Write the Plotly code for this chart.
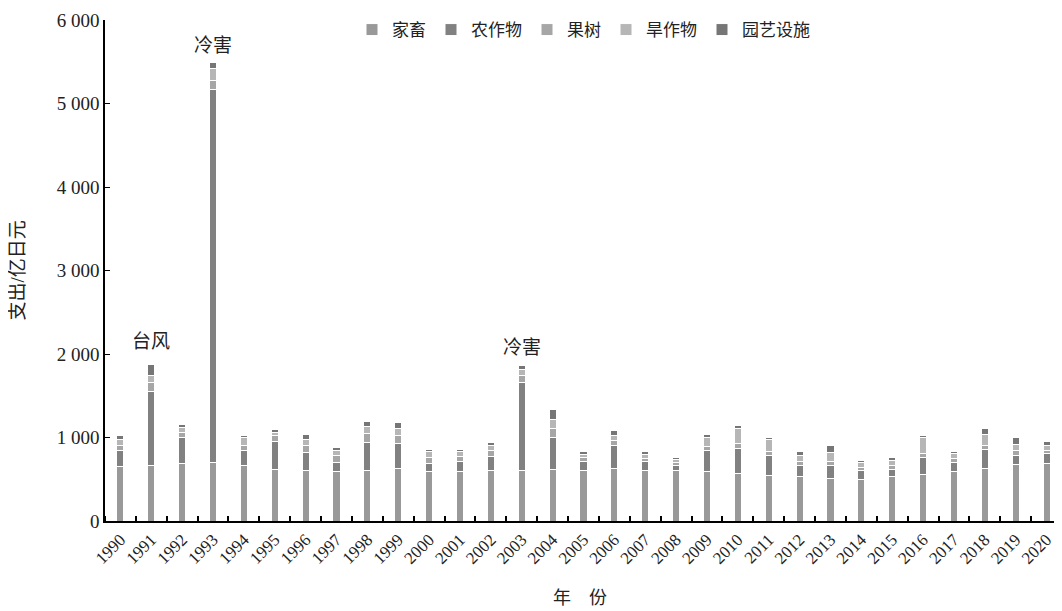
import plotly.graph_objects as go

years = list(range(1990, 2021))
livestock = [650, 670, 690, 700, 670, 620, 610, 590, 610, 625, 590, 590, 610, 600, 620, 603,
             623, 610, 610, 587, 571, 543, 531, 511, 499, 531, 559, 590, 631, 671, 691]
crops = [200, 880, 310, 4470, 180, 330, 210, 110, 330, 300, 100, 120, 160, 1060, 380, 107,
         287, 100, 50, 263, 303, 240, 128, 148, 100, 88, 207, 113, 227, 119, 119]
fruit = [50, 110, 55, 100, 60, 70, 80, 90, 110, 100, 70, 60, 70, 80, 110, 50,
         50, 40, 40, 40, 60, 50, 50, 50, 40, 50, 40, 50, 50, 50, 40]
dryland = [80, 80, 60, 150, 90, 40, 80, 50, 80, 80, 70, 60, 60, 80, 100, 40,
           70, 50, 40, 110, 170, 140, 80, 110, 60, 50, 190, 50, 130, 80, 60]
facility = [50, 130, 45, 70, 30, 40, 60, 40, 60, 75, 30, 30, 45, 45, 130, 30,
            50, 30, 20, 40, 36, 30, 40, 90, 30, 40, 30, 35, 75, 75, 45]

series_names = ["家畜", "农作物", "果树", "旱作物", "园艺设施"]
series_vals = [livestock, crops, fruit, dryland, facility]
colors = ["#999999", "#818181", "#a6a6a6", "#b6b6b6", "#767676"]

y_ticks = [0, 1000, 2000, 3000, 4000, 5000, 6000]
y_tick_text = ["0", "1 000", "2 000", "3 000", "4 000", "5 000", "6 000"]

notes_x = [1991, 1993, 2003]
notes_y = [2144, 5700, 2072]
notes_text = ["台风", "冷害", "冷害"]

FONT = "Liberation Serif, Noto Sans CJK SC, serif"

fig = go.Figure()
for name, vals, c in zip(series_names, series_vals, colors):
    fig.add_trace(go.Bar(x=years, y=vals, name=name, width=0.23,
                         marker=dict(color=c, line=dict(color="white", width=1))))

for xv, yv, t in zip(notes_x, notes_y, notes_text):
    fig.add_annotation(x=xv, y=yv, text=t, showarrow=False,
                       font=dict(size=19, color="#222", family=FONT), yanchor="middle")

# axis titles as paper annotations
fig.add_annotation(x=0.496, y=-0.154, xref="paper", yref="paper", text="年　份",
                   showarrow=False, font=dict(size=18, color="#222", family=FONT),
                   yanchor="middle")
fig.add_annotation(x=-0.091, y=0.5, xref="paper", yref="paper", text="支出/亿日元",
                   textangle=-90, showarrow=False,
                   font=dict(size=19, color="#222", family=FONT), xanchor="center")

# page body has an 8px margin, so the figure is sized/placed to compensate
fig.update_layout(
    barmode="stack",
    width=1054, height=603,
    margin=dict(l=97, r=0, t=12, b=90),
    plot_bgcolor="white", paper_bgcolor="white",
    font=dict(family=FONT, size=15, color="#222"),
    legend=dict(orientation="h", x=0.5, xanchor="center", y=0.98, yanchor="middle",
                font=dict(size=17, family=FONT), traceorder="normal",
                bgcolor="rgba(0,0,0,0)"),
    xaxis=dict(range=[1989.5, 2020.5], tickvals=years, ticktext=[str(y) for y in years],
               tickangle=-45, ticks="", showline=True, linecolor="black", linewidth=2,
               tickfont=dict(size=17, family=FONT), automargin=False,
               minor=dict(tick0=1989.5, dtick=1, ticks="inside", ticklen=5,
                          tickcolor="black", tickwidth=1.5, showgrid=False),
               showgrid=False, zeroline=False),
    yaxis=dict(range=[0, 6000], tickvals=y_ticks, ticktext=y_tick_text, ticks="inside",
               ticklen=5, tickcolor="black", showline=True, linecolor="black", linewidth=1.5,
               tickfont=dict(size=19, family=FONT), showgrid=False, zeroline=False,
               automargin=False),
)

fig.write_html("out.html")
